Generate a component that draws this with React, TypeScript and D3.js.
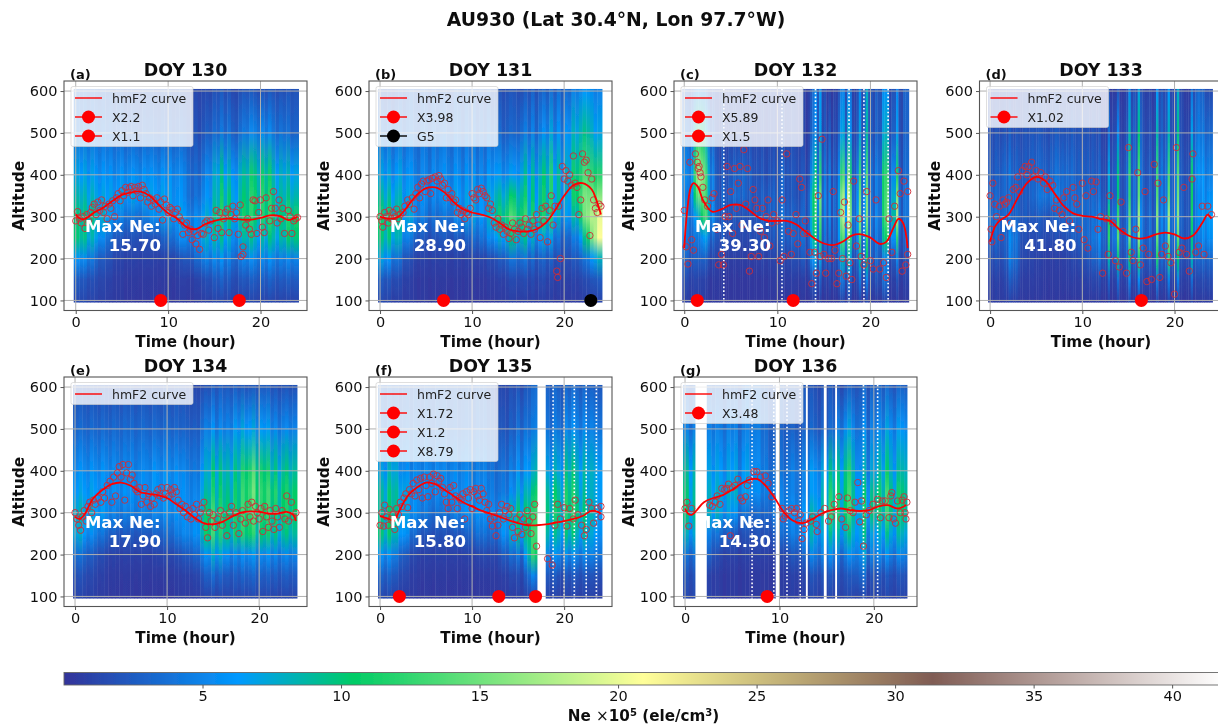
import React, { useEffect, useRef } from "react";
import * as d3 from "d3";

const TITLE = "AU930 (Lat 30.4°N, Lon 97.7°W)";
const FONT = "'DejaVu Sans', sans-serif";

// altitudes of the Ne grid rows, top to bottom
const altRows = [600, 500, 400, 350, 300, 250, 200, 150, 100];

// Ne (x10^5) read per hour, one row per altitude
const neA = [
  [3, 3, 3, 2.5, 2.5, 2, 2, 2, 2, 2, 2, 2, 2, 1.5, 1.5, 2, 2, 2, 2, 2, 2, 2, 2, 2],
  [4, 4, 4, 3.5, 3.5, 3, 3, 3, 3, 3, 3, 3, 3, 2, 3, 3.5, 4, 4, 4, 5, 5, 4, 4, 3],
  [7, 7, 6.5, 6, 6, 6, 6, 6, 6, 6, 6, 5.5, 5, 4, 6, 8, 8, 9, 8, 10, 10, 8, 8, 7],
  [8.5, 8.5, 7.5, 7, 7, 7, 7, 7, 7, 7, 6.5, 6, 5, 5, 6.5, 9, 10, 10, 9, 11, 11, 9, 9, 8.5],
  [10, 10, 9, 7, 5.5, 4.5, 4, 4.5, 6, 7, 7, 7, 7, 7, 8, 10, 10.5, 11, 10, 10.5, 11, 10, 10.5, 11],
  [10, 9, 7, 4, 2.5, 2, 2, 2, 2, 3, 4, 6, 7, 8, 8, 8, 8, 8, 8, 8, 8, 8.5, 9, 10],
  [6, 5, 3, 2, 1.2, 1, 1, 1, 1, 1, 1.2, 2, 3.5, 5, 5, 5, 5, 5, 4.5, 5, 5, 5, 5, 5],
  [2.5, 2, 1.5, 1, 0.7, 0.5, 0.5, 0.5, 0.5, 0.5, 0.5, 0.8, 1, 1.5, 2, 2.5, 2.5, 2.5, 2, 2.5, 2.5, 2.5, 2.5, 2.5],
  [1.5, 1.2, 1, 0.7, 0.5, 0.4, 0.4, 0.4, 0.4, 0.4, 0.4, 0.5, 0.6, 0.8, 1, 1.2, 1.2, 1.2, 1, 1.2, 1.2, 1.2, 1.2, 1.2],
];
const neB = [
  [2, 2, 3, 3, 3, 3, 3, 3, 3, 3, 3, 3, 2, 2, 2, 2, 3, 3, 3, 4, 4, 5, 6, 5],
  [4, 4, 4, 4, 4, 4, 4, 4, 4, 4, 4, 4, 4, 3, 3, 4, 5, 5, 6, 6, 7, 8, 9, 7],
  [7, 7, 7, 6, 5.5, 5.5, 6, 6, 6, 6, 6, 6, 7, 6, 6, 8, 9, 9, 10, 9, 9, 11, 13, 12],
  [9, 9, 8, 7, 6, 5.5, 6, 7, 7, 7, 7, 7, 9, 9, 10, 10, 10, 10, 10, 9, 8, 12, 15, 16],
  [11, 11, 9, 7, 5, 4, 4, 4.5, 6, 7, 7, 7, 10, 12, 13, 12, 11.5, 11, 10, 8, 7, 9, 16, 20],
  [10, 10, 7, 4, 2.5, 2, 2.5, 2.5, 2.5, 3, 4, 5, 7, 8, 9, 9, 8, 7, 6, 4, 3.5, 5, 10, 21],
  [7, 5, 3, 1.5, 1, 1, 1, 1, 1, 1, 1.2, 1.5, 2, 3, 4, 4, 3.5, 3, 2.5, 2, 2, 2.5, 4, 8],
  [2.5, 2, 1.2, 0.7, 0.5, 0.5, 0.5, 0.5, 0.5, 0.5, 0.5, 0.6, 0.8, 1, 1.5, 1.5, 1.5, 1.5, 1, 1, 1, 1, 1.5, 2.5],
  [1.5, 1, 0.8, 0.6, 0.5, 0.4, 0.4, 0.4, 0.4, 0.4, 0.4, 0.4, 0.5, 0.6, 0.8, 0.8, 0.8, 0.8, 0.6, 0.6, 0.6, 0.6, 0.8, 1.2],
];
const neC = [
  [3, 5, 4, 2, 2, 2, 2, 2, 2, 2, 2, 2, 2, 2, 8, 2, 4, 6, 4, 8, 7, 6, 5, 6],
  [5, 12, 8, 2, 2, 2, 2, 2, 2, 2, 2, 2, 2, 2.5, 8, 5, 6, 8, 6, 9, 8, 8, 7, 6],
  [7, 18, 14, 3, 3, 4, 5, 3, 3, 3, 4, 3, 3, 5, 14, 9, 10, 16, 12, 14, 12, 12, 14, 7],
  [6, 15, 14, 3, 4, 5, 5, 3, 4, 4, 4, 3, 3, 8, 18, 10, 13, 20, 14, 16, 12, 12, 20, 8],
  [7, 7, 16, 4, 3, 3, 3, 3, 4, 4, 5, 4, 4, 8, 16, 10, 13, 22, 16, 16, 14, 12, 24, 8],
  [6, 4, 8, 3, 2.5, 2.5, 2, 2.5, 3, 3, 4, 4, 5, 8, 14, 8, 11, 16, 14, 13, 12, 10, 16, 6],
  [4, 2.5, 3, 1.5, 1, 1, 1, 1, 1.5, 1.5, 2, 2, 3, 6, 8, 6, 7, 9, 8, 10, 10, 5, 6, 4],
  [2, 1, 1, 0.7, 0.5, 0.5, 0.5, 0.5, 0.6, 0.7, 1, 1, 1, 2, 3, 3, 4, 4, 4, 5, 6, 4, 2, 2],
  [1, 0.8, 0.7, 0.6, 0.5, 0.4, 0.4, 0.4, 0.5, 0.5, 0.5, 0.5, 0.5, 0.8, 1, 1, 1.2, 1.2, 1.2, 1.5, 1.5, 1.2, 0.8, 0.8],
];
const neD = [
  [2, 2, 2, 2, 2, 2, 2, 2, 2, 2, 2, 2, 2, 2, 3, 7, 7, 3, 8, 6, 8, 2, 8, 2],
  [3, 3, 3, 3, 3, 2.5, 2.5, 3, 3, 3, 3, 3, 3, 5, 6, 10, 10, 6, 10, 8, 10, 5, 10, 4],
  [4, 5, 5, 4, 4, 4, 4, 5, 5, 4, 4, 4, 6, 9, 11, 13, 14, 9, 15, 13, 14, 9, 14, 6],
  [5, 5, 5, 4, 4, 5, 6, 6, 5, 5, 5, 5, 7, 9, 11, 13, 15, 10, 16, 14, 15, 10, 12, 7],
  [6, 5, 5, 4, 3, 3, 3, 4, 5, 5, 5, 6, 10, 13, 12, 15, 18, 12, 18, 17, 16, 11, 12, 8],
  [5, 4, 8, 3, 2, 2, 2, 2, 3, 4, 5, 7, 11, 14, 14, 16, 17, 12, 16, 16, 14, 10, 10, 7],
  [3, 3, 7, 2, 1.5, 1, 1, 1, 1.5, 2, 3, 5, 8, 9, 10, 11, 12, 10, 12, 12, 10, 9, 7, 4],
  [1.5, 1.5, 4, 1, 1, 0.7, 0.7, 0.7, 1, 1, 1.5, 2, 3, 3, 5, 5, 6, 4, 5, 5, 5, 4, 3, 2],
  [1, 1, 1.5, 0.7, 0.6, 0.5, 0.5, 0.5, 0.5, 0.6, 0.7, 0.8, 1, 1, 1.5, 1.5, 1.5, 1.2, 1.5, 1.5, 1.5, 1.2, 1, 0.8],
];
const neE = [
  [2, 2, 2, 2, 2, 2, 2, 2, 2, 2, 2, 2, 1.5, 1.5, 2, 2.5, 2.5, 2.5, 2, 2, 2.5, 2, 2, 2],
  [3.5, 3.5, 3.5, 3.5, 3.5, 3.5, 3.5, 3.5, 3.5, 3.5, 3.5, 3, 3, 3, 5, 5, 5, 6, 6, 5.5, 6, 5, 5, 5],
  [6, 6, 6, 6, 5.5, 5.5, 5.5, 5.5, 6, 6, 6, 5.5, 5, 5, 8, 9, 8.5, 9, 10, 11, 10, 9, 9, 9],
  [7, 7, 7, 6, 6, 6, 6, 6, 6.5, 6.5, 6.5, 6, 5.5, 6, 9, 10, 9.5, 10, 11, 12, 11, 11, 10.5, 10.5],
  [8.5, 8, 7, 6, 5, 5, 5, 5, 5.5, 6, 6, 6, 6, 7, 11, 11, 10.5, 10.5, 11, 11, 11, 10.5, 10.5, 10.5],
  [8, 6, 5, 3.5, 2.5, 2.5, 2.5, 2.5, 3, 3.5, 4, 5, 6, 7, 11, 11, 10, 10, 10, 9.5, 9.5, 9, 9, 9],
  [4, 3, 2, 1.2, 1, 1, 1, 1, 1, 1.5, 1.5, 2, 3, 4, 6, 7, 6, 5, 5, 5, 5, 5, 5, 5],
  [2, 1.5, 1, 0.7, 0.5, 0.5, 0.5, 0.5, 0.5, 0.5, 0.6, 0.8, 1, 1.5, 3, 3, 2.5, 2.5, 2.5, 2.5, 2.5, 2.5, 2.5, 2.5],
  [1.2, 1, 0.7, 0.5, 0.4, 0.4, 0.4, 0.4, 0.4, 0.4, 0.4, 0.5, 0.6, 0.8, 1.2, 1.2, 1.2, 1.2, 1.2, 1.2, 1.2, 1.2, 1.2, 1.2],
];
const neF = [
  [3, 3, 3, 3, 3, 3, 3, 3, 3, 3, 3, 3, 2, 1.5, 2, 2, 3, 3, 3, 3, 3, 3, 3, 3],
  [4, 4, 4, 4, 4, 3.5, 3.5, 3.5, 3.5, 3.5, 3.5, 3.5, 3, 2.5, 3, 4, 4, 4, 4, 4.5, 5, 5, 5, 5],
  [7, 8, 6, 5.5, 5.5, 5.5, 5.5, 5.5, 5.5, 5.5, 5, 5, 4.5, 4.5, 5, 6, 7, 7, 7, 8, 9, 8, 8, 8],
  [9, 9.5, 8, 6, 5.5, 5.5, 5.5, 6, 6, 6, 5.5, 5.5, 5, 5, 6, 8, 9, 9, 9, 10, 10.5, 9, 8, 8],
  [9, 10, 8, 6, 5, 4, 4, 4.5, 5.5, 6, 6, 6, 6, 8, 9, 10, 11, 10, 10, 11, 11, 10, 9, 8],
  [10, 9, 7, 4, 2.5, 2, 2, 2, 2.5, 3, 4, 4, 4, 7, 8, 9, 12, 10, 8, 9, 9, 8, 8, 7],
  [6, 5, 3, 1.5, 1, 1, 1, 1, 1, 1, 1.2, 1.5, 1.5, 3, 4, 4, 12, 6, 5, 6, 5, 5, 5, 5],
  [3, 2.5, 1.5, 0.8, 0.5, 0.5, 0.5, 0.5, 0.5, 0.5, 0.5, 0.5, 0.7, 1, 1.5, 1.5, 5, 2, 2.5, 2, 2, 2, 2, 2],
  [1.5, 1.2, 0.8, 0.5, 0.4, 0.4, 0.4, 0.4, 0.4, 0.4, 0.4, 0.4, 0.5, 0.6, 0.8, 0.8, 1.5, 1, 1.2, 1, 1, 1, 1, 1],
];
const neG = [
  [3, 3, 3, 3, 3, 3, 4, 4, 3, 2.5, 2.5, 2.5, 2.5, 2, 2, 2, 2, 2.5, 3, 3, 3, 3, 3, 3],
  [5, 5, 5, 5, 5, 5, 5, 5, 4, 3, 3, 3, 3, 3, 3, 3, 5, 6, 5, 5, 5, 6, 6, 6],
  [9, 8, 7, 7, 7, 7, 7, 6, 5, 4, 4, 5, 5, 6, 7, 8, 9, 10, 7, 7, 8, 9, 8, 9],
  [10, 8, 8, 8, 8, 8, 7, 6, 5, 5, 5, 5, 5, 6, 8, 10, 10, 11, 8, 9, 10, 11, 10, 10],
  [10, 9, 8, 8, 7, 6, 4, 3.5, 3.5, 5, 5.5, 6, 6, 8, 9, 11, 10.5, 11, 9, 10, 10, 11, 10, 10],
  [8, 7, 5, 4, 3, 2.5, 2, 2, 2, 3, 4, 5, 6, 8, 7, 8, 8, 8, 9, 7, 7, 8, 8, 8],
  [4, 4, 3, 1.5, 1, 1, 1, 1, 1, 1, 1.5, 2.5, 3, 5, 5, 5, 4, 5, 7, 5, 5, 5, 5, 5],
  [2, 2, 1, 0.7, 0.5, 0.5, 0.5, 0.5, 0.5, 0.5, 0.7, 1, 1, 2, 2, 2, 2, 2, 4, 2, 2, 2, 2, 2],
  [1.5, 1.5, 1, 0.7, 0.5, 0.5, 0.5, 0.5, 0.5, 0.5, 0.6, 0.8, 0.8, 1.2, 1.2, 1.2, 1.2, 1.2, 1.5, 1.2, 1.2, 1.2, 1.2, 1.2],
];

// brightness of the vertical streaks, tenths of the hourly value, left to right over 24 h
const streakA = [10, 9, 10, 8, 10, 9, 8, 10, 9, 10, 8, 9, 10, 8, 9, 10, 9, 8, 10, 9, 10, 9, 8, 10, 9, 10, 8, 9, 10, 9, 7, 6, 8, 7, 9, 10, 8, 11, 9, 12, 8, 10, 7, 6, 9, 11, 10, 12, 10, 8, 11, 9, 12, 10, 8, 10, 9, 11, 9, 10];
const streakB = [10, 8, 10, 7, 9, 10, 7, 9, 10, 8, 7, 10, 9, 7, 10, 8, 9, 10, 8, 7, 10, 9, 7, 10, 8, 10, 7, 9, 7, 10, 8, 9, 10, 8, 9, 11, 10, 8, 9, 11, 7, 10, 6, 9, 11, 8, 12, 7, 10, 6, 9, 8, 11, 9, 10, 11, 10, 10, 9, 10];
const streakC = [8, 7, 5, 6, 9, 10, 10, 10, 10, 9, 6, 4, 7, 6, 7, 5, 10, 6, 5, 7, 6, 8, 6, 7, 5, 7, 6, 5, 8, 6, 6, 7, 6, 8, 6, 5, 7, 6, 8, 5, 6, 7, 9, 5, 7, 6, 8, 7, 6, 5, 7, 6, 2, 4, 8, 9, 10, 3, 9, 2, 4, 2, 5, 1.5, 3, 2, 5, 10, 10, 3, 10, 8, 2, 2, 4, 10, 2, 4, 10, 2, 3, 2, 4, 3, 3, 9, 10, 10, 2, 4, 4, 10, 3, 2, 5, 5];
const streakD = [6, 5, 7, 6, 5, 6, 7, 5, 9, 6, 5, 7, 6, 5, 6, 7, 6, 7, 8, 7, 8, 9, 8, 7, 7, 6, 8, 7, 9, 8, 6, 7, 6, 7, 6, 8, 7, 6, 7, 6, 7, 6, 7, 5, 7, 6, 5, 7, 3, 3, 2, 10, 2, 3, 3, 10, 2, 1.5, 2, 3, 10, 2, 3, 2, 10, 3, 2, 1.5, 2, 3, 1.5, 2, 10, 2, 3, 2, 3, 10, 2, 2, 3, 10, 2, 2, 1.5, 2, 2, 10, 3, 4, 5, 5, 7, 6, 8, 8];
const streakE = [9, 10, 9, 8, 10, 9, 8, 10, 9, 8, 10, 9, 8, 10, 9, 10, 8, 9, 10, 9, 8, 10, 9, 8, 10, 9, 8, 10, 9, 10, 9, 8, 9, 8, 10, 11, 9, 12, 8, 11, 9, 10, 8, 11, 9, 12, 10, 11, 13, 9, 11, 10, 12, 9, 11, 8, 10, 11, 9, 10];
const streakF = [10, 8, 11, 9, 10, 8, 9, 10, 8, 10, 9, 8, 10, 9, 8, 10, 9, 10, 8, 9, 10, 8, 9, 10, 9, 8, 10, 9, 10, 8, 9, 7, 8, 9, 7, 10, 8, 11, 7, 10, 9, 11, 12, 14, 12, 10, 8, 11, 9, 7, 11, 9, 12, 10, 8, 11, 9, 10, 9, 8];
const streakG = [10, 7, 10, 9, 10, 9, 10, 8, 10, 9, 7, 10, 9, 10, 6, 9, 10, 8, 9, 10, 8, 9, 7, 9, 8, 10, 8, 9, 10, 8, 7, 10, 8, 11, 9, 7, 10, 8, 12, 9, 11, 7, 10, 12, 9, 7, 8, 12, 6, 10, 9, 11, 8, 12, 9, 7, 11, 10, 9, 10];

// hmF2 curve [hour, km]
const curveA = [[0, 305], [0.5, 295], [1, 295], [2, 310], [3, 322], [4, 338], [5, 352], [6, 358], [7, 360], [8, 350], [9, 328], [10, 308], [11, 295], [12, 275], [13, 270], [14, 282], [15, 290], [16, 295], [17, 295], [18, 293], [19, 293], [20, 297], [21, 303], [22, 302], [23, 292], [23.5, 295], [24, 300]];
const curveB = [[0, 300], [1, 295], [2, 300], [3, 325], [4, 352], [5, 368], [6, 370], [7, 358], [8, 335], [9, 318], [10, 310], [11, 305], [12, 298], [13, 285], [14, 270], [15, 265], [16, 265], [17, 270], [18, 285], [19, 315], [20, 350], [21, 375], [22, 380], [23, 365], [23.5, 340], [24, 305]];
const curveC = [[0, 225], [0.3, 310], [0.7, 370], [1, 380], [1.5, 370], [2, 340], [3, 312], [4, 318], [5, 328], [6, 328], [7, 315], [8, 298], [9, 290], [10, 290], [11, 290], [12, 282], [13, 265], [14, 248], [15, 236], [16, 232], [17, 240], [18, 255], [19, 258], [20, 250], [21, 235], [21.7, 240], [22.5, 275], [23, 295], [23.5, 285], [24, 225]];
const curveD = [[0, 240], [0.5, 275], [1, 290], [2, 305], [3, 345], [4, 380], [5, 395], [6, 385], [7, 355], [8, 325], [9, 308], [10, 302], [11, 300], [12, 295], [13, 290], [14, 270], [15, 255], [16, 248], [17, 250], [18, 258], [19, 262], [20, 258], [21, 248], [22, 255], [23, 285], [23.6, 305], [24, 295]];
const curveE = [[0, 290], [0.5, 285], [1, 295], [2, 335], [3, 355], [4, 368], [5, 372], [6, 365], [7, 350], [8, 345], [9, 342], [10, 335], [11, 320], [12, 305], [13, 288], [14, 275], [15, 272], [16, 278], [17, 290], [18, 300], [19, 303], [20, 302], [21, 298], [22, 298], [23, 302], [23.7, 295], [24, 280]];
const curveF = [[0, 292], [1, 285], [1.5, 280], [2, 300], [3, 340], [4, 360], [5, 372], [6, 368], [7, 355], [8, 340], [9, 325], [10, 315], [11, 305], [12, 298], [13, 290], [14, 282], [15, 275], [16, 270], [17, 270], [18, 272], [19, 276], [20, 280], [21, 285], [22, 292], [23, 305], [23.5, 303], [24, 298]];
const curveG = [[0, 310], [0.3, 298], [0.7, 295], [1.2, 305], [2, 325], [3, 335], [4, 342], [5, 355], [6, 370], [7, 380], [7.7, 380], [8.5, 365], [9.5, 335], [10.5, 300], [11.5, 280], [12.5, 275], [13.5, 285], [14.5, 298], [15.5, 306], [16.5, 310], [17.5, 306], [18.5, 304], [19.5, 306], [20.5, 315], [21.5, 318], [22.5, 310], [23.4, 318]];

// single hmF2 readings [hour, km]
const readingsA = [[0, 290], [0.2, 312], [0.4, 295], [0.6, 285], [0.8, 300], [1, 272], [1.2, 305], [1.4, 290], [1.6, 310], [1.8, 322], [2, 330], [2.2, 305], [2.4, 335], [2.6, 315], [2.8, 340], [3, 310], [3.2, 325], [3.4, 295], [3.6, 330], [3.8, 320], [4, 338], [4.2, 300], [4.4, 345], [4.6, 355], [4.8, 338], [5, 362], [5.2, 350], [5.4, 370], [5.6, 358], [5.8, 368], [6, 372], [6.2, 350], [6.4, 370], [6.6, 362], [6.8, 372], [7, 345], [7.2, 375], [7.4, 365], [7.6, 355], [7.8, 335], [8, 345], [8.2, 325], [8.4, 340], [8.6, 330], [8.8, 345], [9, 318], [9.2, 335], [9.4, 292], [9.6, 342], [9.8, 328], [10, 310], [10.2, 322], [10.4, 318], [10.6, 295], [10.8, 310], [11, 318], [11.2, 300], [11.4, 290], [11.6, 258], [11.8, 280], [12, 285], [12.2, 262], [12.4, 270], [12.6, 245], [12.8, 265], [13, 235], [13.2, 255], [13.4, 222], [13.6, 260], [13.8, 258], [14, 285], [14.2, 290], [14.4, 268], [14.6, 290], [15, 250], [15.2, 315], [15.4, 272], [15.6, 310], [15.8, 262], [16, 295], [16.2, 310], [16.4, 318], [16.6, 262], [16.8, 305], [17, 325], [17.2, 295], [17.4, 310], [17.6, 258], [17.8, 328], [17.9, 205], [18.1, 228], [18.1, 210], [18.4, 280], [18.6, 295], [18.8, 270], [19, 258], [19.2, 340], [19.4, 338], [19.6, 260], [19.8, 310], [20, 340], [20.2, 275], [20.4, 262], [20.6, 345], [21, 290], [21.2, 320], [21.4, 360], [21.6, 320], [21.8, 285], [22, 340], [22.2, 295], [22.4, 320], [22.6, 260], [23, 315], [23.2, 300], [23.4, 260], [23.6, 290], [23.8, 295], [24, 298]];
const readingsB = [[0, 300], [0.2, 290], [0.3, 275], [0.5, 310], [0.7, 300], [0.9, 285], [1, 315], [1.2, 295], [1.4, 310], [1.6, 300], [1.8, 318], [2, 295], [2.2, 305], [2.5, 310], [2.7, 325], [3, 340], [3.2, 330], [3.5, 345], [3.7, 318], [3.9, 355], [4.1, 370], [4.3, 345], [4.5, 378], [4.7, 385], [4.9, 360], [5.1, 385], [5.3, 388], [5.5, 355], [5.7, 392], [6, 395], [6.2, 385], [6.4, 398], [6.6, 390], [6.8, 375], [7, 380], [7.2, 345], [7.4, 365], [7.6, 345], [7.8, 355], [8, 335], [8.2, 340], [8.4, 310], [8.6, 320], [8.8, 305], [9, 315], [9.2, 295], [9.4, 310], [9.6, 305], [9.8, 320], [10, 355], [10.2, 345], [10.4, 340], [10.6, 365], [10.8, 355], [11, 368], [11.2, 360], [11.4, 350], [11.6, 345], [11.8, 320], [12, 330], [12.2, 315], [12.4, 285], [12.6, 275], [12.8, 295], [13, 270], [13.2, 280], [13.4, 258], [13.6, 275], [13.8, 265], [14, 248], [14.2, 260], [14.4, 285], [14.6, 270], [14.8, 245], [15, 265], [15.2, 285], [15.4, 275], [15.6, 260], [15.8, 295], [16, 270], [16.2, 280], [16.4, 258], [16.6, 290], [16.8, 270], [17, 305], [17.2, 280], [17.4, 250], [17.6, 320], [17.8, 290], [18, 325], [18.2, 240], [18.4, 315], [18.6, 350], [18.8, 280], [19, 325], [19.2, 170], [19.3, 155], [19.4, 325], [19.6, 200], [19.8, 420], [20, 390], [20.2, 410], [20.4, 385], [20.6, 400], [20.8, 375], [21, 445], [21.2, 380], [21.4, 370], [21.6, 305], [21.8, 340], [22, 450], [22.2, 430], [22.4, 435], [22.6, 405], [22.8, 255], [23, 390], [23.2, 340], [23.4, 320], [23.6, 310], [23.8, 330], [24, 325]];
const readingsC = [[0, 315], [0.2, 228], [0.4, 187], [0.6, 430], [0.8, 245], [1, 220], [1.2, 450], [1.4, 430], [1.5, 415], [1.6, 420], [1.7, 405], [1.8, 395], [2, 370], [2.2, 340], [2.5, 325], [3, 345], [3.2, 355], [3.5, 270], [3.7, 185], [4, 210], [4.2, 185], [4.4, 300], [4.6, 420], [4.8, 300], [5, 360], [5.2, 260], [5.4, 415], [5.6, 320], [5.8, 380], [6, 420], [6.2, 280], [6.4, 460], [6.6, 330], [6.8, 415], [7, 170], [7.2, 205], [7.4, 365], [7.6, 340], [7.8, 320], [8, 205], [8.2, 265], [8.4, 320], [8.6, 250], [8.8, 300], [9, 340], [9.2, 230], [9.4, 285], [9.6, 305], [10, 290], [10.3, 195], [10.5, 340], [10.7, 205], [11, 450], [11.2, 265], [11.5, 210], [11.7, 260], [12, 305], [12.2, 235], [12.4, 390], [12.6, 370], [12.8, 260], [13, 290], [13.2, 260], [13.5, 215], [13.7, 140], [14, 215], [14.2, 165], [14.4, 350], [14.6, 205], [14.8, 485], [15, 210], [15.2, 165], [15.5, 200], [15.8, 200], [16, 360], [16.2, 220], [16.4, 140], [16.6, 165], [16.8, 310], [17, 200], [17.2, 335], [17.4, 158], [17.6, 280], [17.8, 190], [18, 150], [18.2, 385], [18.5, 230], [18.8, 295], [19, 205], [19.3, 185], [19.6, 360], [20, 195], [20.3, 175], [20.6, 340], [21, 175], [21.4, 190], [21.7, 155], [22, 295], [22.3, 215], [22.6, 325], [23, 410], [23.2, 355], [23.4, 170], [23.6, 385], [23.8, 185], [24, 360], [24, 210]];
const readingsD = [[0, 350], [0.1, 270], [0.2, 240], [0.3, 380], [0.5, 330], [0.7, 300], [1, 325], [1.2, 250], [1.4, 340], [1.6, 330], [1.8, 335], [2, 345], [2.2, 285], [2.5, 365], [2.8, 370], [3, 395], [3.2, 360], [3.5, 410], [3.8, 420], [4, 400], [4.2, 420], [4.5, 430], [4.7, 395], [5, 410], [5.2, 390], [5.5, 405], [5.8, 380], [6, 395], [6.2, 365], [6.5, 385], [6.8, 375], [7, 320], [7.2, 340], [7.5, 315], [7.8, 305], [8, 345], [8.3, 360], [8.6, 290], [9, 370], [9.2, 345], [9.4, 330], [9.6, 270], [10, 380], [10.2, 245], [10.4, 350], [10.6, 225], [11, 385], [11.2, 360], [11.5, 383], [11.7, 270], [12, 300], [12.2, 165], [12.6, 295], [12.8, 210], [13, 350], [13.3, 285], [13.6, 195], [14, 180], [14.2, 335], [14.4, 265], [14.8, 165], [15, 465], [15.3, 215], [15.5, 195], [15.8, 270], [16, 405], [16.3, 185], [16.6, 225], [16.8, 360], [17, 145], [17.2, 210], [17.5, 150], [17.8, 425], [18.2, 380], [18.4, 155], [18.6, 210], [18.8, 340], [19, 230], [19.3, 205], [19.6, 190], [20, 115], [20.2, 465], [20.5, 215], [20.8, 225], [21, 370], [21.3, 210], [21.6, 170], [21.9, 390], [22, 450], [22.3, 215], [22.6, 230], [23, 325], [23.2, 210], [23.6, 325], [24, 305]];
const readingsE = [[0, 300], [0.2, 285], [0.4, 270], [0.6, 258], [0.8, 290], [1, 305], [1.2, 280], [1.4, 315], [1.6, 325], [1.8, 300], [2, 330], [2.2, 320], [2.5, 335], [2.8, 325], [3, 350], [3.2, 335], [3.5, 365], [3.8, 375], [4, 325], [4.2, 385], [4.4, 340], [4.6, 395], [4.8, 410], [5, 385], [5.2, 415], [5.4, 330], [5.6, 395], [5.8, 415], [6, 380], [6.2, 390], [6.4, 370], [6.6, 355], [6.8, 350], [7, 360], [7.2, 320], [7.4, 340], [7.6, 360], [7.8, 325], [8, 345], [8.2, 315], [8.4, 335], [8.6, 320], [8.8, 345], [9, 355], [9.2, 340], [9.4, 360], [9.6, 335], [9.8, 345], [10, 360], [10.2, 340], [10.4, 355], [10.6, 345], [10.8, 360], [11, 350], [11.2, 330], [11.4, 310], [11.6, 320], [11.8, 300], [12, 315], [12.2, 290], [12.4, 305], [12.6, 285], [12.8, 310], [13, 295], [13.2, 320], [13.4, 285], [13.6, 300], [13.8, 310], [14, 325], [14.2, 265], [14.4, 240], [14.6, 300], [14.8, 280], [15, 295], [15.2, 265], [15.5, 285], [15.8, 305], [16, 270], [16.2, 295], [16.5, 245], [16.8, 300], [17, 315], [17.2, 270], [17.5, 300], [17.8, 250], [18, 285], [18.2, 305], [18.5, 275], [18.8, 320], [19, 290], [19.2, 325], [19.4, 280], [19.6, 315], [19.8, 300], [20, 285], [20.2, 310], [20.4, 255], [20.6, 315], [20.8, 290], [21, 265], [21.2, 305], [21.4, 280], [21.6, 260], [21.8, 310], [22, 290], [22.2, 265], [22.5, 305], [22.8, 285], [23, 340], [23.2, 280], [23.5, 325], [23.7, 290], [24, 300]];
const readingsF = [[0, 270], [0.2, 300], [0.4, 268], [0.5, 318], [0.7, 290], [0.9, 270], [1, 308], [1.2, 285], [1.4, 295], [1.6, 260], [1.8, 310], [2, 295], [2.2, 325], [2.4, 315], [2.6, 335], [2.8, 345], [3, 312], [3.2, 355], [3.4, 345], [3.6, 370], [3.8, 340], [4, 378], [4.2, 355], [4.4, 382], [4.6, 335], [4.8, 385], [5, 365], [5.2, 338], [5.4, 385], [5.6, 370], [5.8, 392], [6, 350], [6.2, 388], [6.4, 375], [6.6, 382], [6.8, 360], [7, 345], [7.2, 325], [7.4, 310], [7.6, 360], [7.8, 325], [8, 365], [8.2, 340], [8.4, 310], [8.6, 335], [8.8, 330], [9, 345], [9.2, 285], [9.4, 350], [9.6, 335], [9.8, 355], [10, 310], [10.2, 350], [10.4, 358], [10.6, 340], [10.8, 330], [11, 358], [11.2, 345], [11.4, 325], [11.6, 305], [11.8, 320], [12, 285], [12.2, 268], [12.4, 290], [12.6, 245], [12.8, 270], [13, 300], [13.2, 320], [13.4, 285], [13.6, 305], [13.8, 315], [14, 295], [14.2, 310], [14.4, 265], [14.6, 240], [14.8, 285], [15, 255], [15.2, 295], [15.4, 248], [15.6, 285], [15.8, 265], [16, 305], [16.2, 280], [16.4, 250], [16.6, 290], [16.8, 320], [17, 220], [18.2, 190], [18.7, 175], [19, 270], [19.3, 320], [19.6, 285], [20, 312], [20.3, 268], [20.6, 310], [21, 285], [21.2, 330], [21.5, 295], [21.9, 270], [22.2, 245], [22.4, 260], [22.7, 325], [23, 310], [23.2, 275], [23.6, 310], [24, 315], [24, 290]];
const readingsG = [[0, 310], [0.2, 325], [0.4, 268], [0.7, 310], [2.6, 318], [2.9, 315], [3.2, 325], [3.4, 340], [3.7, 320], [3.9, 358], [4.2, 355], [4.4, 358], [4.6, 368], [4.8, 245], [5, 360], [5.3, 365], [5.6, 380], [5.9, 335], [6.1, 328], [6.4, 338], [6.6, 365], [6.8, 378], [7.3, 398], [7.6, 398], [8, 385], [8.5, 388], [8.8, 370], [9.2, 338], [10.3, 310], [10.4, 285], [10.6, 292], [11, 305], [11.3, 310], [11.6, 300], [11.8, 310], [12, 280], [12.2, 295], [12.4, 238], [12.6, 260], [12.8, 275], [13.3, 280], [13.5, 290], [13.9, 272], [14, 255], [14.4, 300], [14.8, 310], [15.2, 280], [15.5, 290], [15.8, 320], [16.3, 338], [16.6, 285], [17, 265], [17.2, 335], [17.5, 305], [17.8, 300], [18, 325], [18.3, 372], [18.5, 278], [18.7, 328], [18.9, 220], [19.2, 295], [19.5, 305], [19.9, 320], [20.4, 332], [20.7, 288], [20.9, 328], [21.2, 328], [21.6, 288], [21.8, 340], [21.9, 348], [22.1, 285], [22.3, 275], [22.5, 328], [22.8, 300], [23, 330], [23.2, 338], [23.3, 300], [23.4, 285], [23.5, 325]];

// flare and storm events [hour, label, colour]
const eventsA = [[9.2, "X2.2", "#ff0000"], [17.7, "X1.1", "#ff0000"]];
const eventsB = [[6.9, "X3.98", "#ff0000"], [22.9, "G5", "#000000"]];
const eventsC = [[1.4, "X5.89", "#ff0000"], [11.7, "X1.5", "#ff0000"]];
const eventsD = [[16.4, "X1.02", "#ff0000"]];
const eventsE = [];
const eventsF = [[2.1, "X1.72", "#ff0000"], [12.9, "X1.2", "#ff0000"], [16.9, "X8.79", "#ff0000"]];
const eventsG = [[8.7, "X3.48", "#ff0000"]];

const colorStops = [0, 6.27, 10.45, 20.9, 31.35, 41.8];
const colorValues = ["#333399", "#0099ff", "#00cc66", "#ffff99", "#805c54", "#ffffff"];
const colorTicks = [5, 10, 15, 20, 25, 30, 35, 40];
const altTicks = [100, 200, 300, 400, 500, 600];
const hourTicks = [0, 10, 20];

const panels = [
  { tag: "(a)", doy: 130, maxNe: "15.70", left: 64, top: 81, xDom: [-1.27, 25.03], ne: neA, streak: streakA, curve: curveA, readings: readingsA, events: eventsA, gaps: [], dotted: [], end: 24 },
  { tag: "(b)", doy: 131, maxNe: "28.90", left: 369, top: 81, xDom: [-1.2, 25.2], ne: neB, streak: streakB, curve: curveB, readings: readingsB, events: eventsB, gaps: [], dotted: [], end: 24 },
  { tag: "(c)", doy: 132, maxNe: "39.30", left: 674, top: 81, xDom: [-1.1, 25], ne: neC, streak: streakC, curve: curveC, readings: readingsC, events: eventsC, gaps: [], dotted: [4.25, 10.5, 14.1, 17.7, 19.3, 21.9], end: 24 },
  { tag: "(d)", doy: 133, maxNe: "41.80", left: 979.5, top: 81, xDom: [-1.15, 25.2], ne: neD, streak: streakD, curve: curveD, readings: readingsD, events: eventsD, gaps: [], dotted: [], end: 24 },
  { tag: "(e)", doy: 134, maxNe: "17.90", left: 64, top: 377, xDom: [-1.2, 25.2], ne: neE, streak: streakE, curve: curveE, readings: readingsE, events: eventsE, gaps: [], dotted: [], end: 24 },
  { tag: "(f)", doy: 135, maxNe: "15.80", left: 369, top: 377, xDom: [-1.2, 25.2], ne: neF, streak: streakF, curve: curveF, readings: readingsF, events: eventsF, gaps: [[17.1, 18]], dotted: [18.8, 20, 21.1, 22.4, 23.5], end: 24 },
  { tag: "(g)", doy: 136, maxNe: "14.30", left: 674, top: 377, xDom: [-1.17, 24.57], ne: neG, streak: streakG, curve: curveG, readings: readingsG, events: eventsG, gaps: [[1.1, 2.3], [9.6, 10], [12.8, 13], [14.7, 15], [15.9, 16.1]], dotted: [7.1, 9.4, 10.8, 12.2, 18.9, 20.4], end: 23.4 },
];

const axW = 243;
const axH = 229.5;

export default function App() {
  const ref = useRef<SVGSVGElement>(null);

  useEffect(() => {
    const svg = d3.select(ref.current);
    svg.selectAll("*").remove();
    svg.style("font-family", FONT);

    const neColor = d3.scaleLinear<string>().domain(colorStops).range(colorValues).clamp(true);

    const defs = svg.append("defs");
    // blur only sideways so the top and bottom edges of the field stay crisp
    defs.append("filter").attr("id", "soft").attr("x", "-5%").attr("y", "-5%").attr("width", "110%").attr("height", "110%")
      .append("feGaussianBlur").attr("stdDeviation", "0.55 0");
    defs.append("filter").attr("id", "page").attr("x", 0).attr("y", 0).attr("width", "100%").attr("height", "100%")
      .append("feGaussianBlur").attr("stdDeviation", 0.35);

    const root = svg.append("g").attr("filter", "url(#page)");
    root.append("rect").attr("width", 1218).attr("height", 728).attr("fill", "#fff");

    root.append("text").attr("x", 616).attr("y", 25.5).attr("text-anchor", "middle")
      .attr("font-size", 18.8).attr("font-weight", "bold").attr("fill", "#111").text(TITLE);

    panels.forEach((p, pi) => {
      const x = d3.scaleLinear().domain(p.xDom).range([p.left, p.left + axW]);
      const y = d3.scaleLinear().domain([76, 624]).range([p.top + axH, p.top]);
      const g = root.append("g");

      // hourly Ne read along time for one altitude row, drawn smooth like the plot
      const hours = d3.range(24).map((h) => h + 0.5);
      const rowScales = p.ne.map((row) => d3.scaleLinear().domain(hours).range(row).clamp(true));
      const colW = 24 / p.streak.length;

      const heat = g.append("g").attr("filter", "url(#soft)");
      p.streak.forEach((f, i) => {
        const t0 = i * colW;
        if (t0 >= p.end) return;
        const t1 = Math.min(t0 + colW, p.end);
        const id = `col-${pi}-${i}`;
        const grad = defs.append("linearGradient").attr("id", id).attr("x1", 0).attr("y1", 0).attr("x2", 0).attr("y2", 1);
        altRows.forEach((a, r) => {
          grad.append("stop")
            .attr("offset", (605 - a) / 510)
            .attr("stop-color", neColor((rowScales[r](t0 + colW / 2) * f) / 10));
        });
        // the first and last columns reach past the data by a marker radius
        const pad0 = i === 0 ? 2 : 0;
        const pad1 = t1 === p.end ? 1.5 : 0.4;
        heat.append("rect")
          .attr("x", x(t0) - pad0).attr("width", x(t1) - x(t0) + pad0 + pad1)
          .attr("y", y(605)).attr("height", y(95) - y(605))
          .attr("fill", `url(#${id})`);
      });
      heat.selectAll(".gap").data(p.gaps).enter().append("rect")
        .attr("x", (d) => x(d[0])).attr("width", (d) => x(d[1]) - x(d[0]))
        .attr("y", y(612)).attr("height", y(88) - y(612)).attr("fill", "#fff");
      heat.selectAll(".dot").data(p.dotted).enter().append("line")
        .attr("x1", (d) => x(d)).attr("x2", (d) => x(d))
        .attr("y1", y(605)).attr("y2", y(95))
        .attr("stroke", "#fff").attr("stroke-width", 1.6).attr("stroke-dasharray", "1.6,2.2");

      // grid
      g.selectAll(".gx").data(hourTicks).enter().append("line")
        .attr("x1", (d) => x(d)).attr("x2", (d) => x(d)).attr("y1", p.top).attr("y2", p.top + axH)
        .attr("stroke", "#b0b0b0").attr("stroke-width", 1);
      g.selectAll(".gy").data(altTicks).enter().append("line")
        .attr("x1", p.left).attr("x2", p.left + axW).attr("y1", (d) => y(d)).attr("y2", (d) => y(d))
        .attr("stroke", "#b0b0b0").attr("stroke-width", 1);

      // hmF2 readings and fit
      g.selectAll(".reading").data(p.readings).enter().append("circle")
        .attr("cx", (d) => x(d[0])).attr("cy", (d) => y(d[1])).attr("r", 3.2)
        .attr("fill", "none").attr("stroke", "#d02c36").attr("stroke-width", 1).attr("opacity", 0.9);
      const line = d3.line().x((d) => x(d[0])).y((d) => y(d[1])).curve(d3.curveCatmullRom.alpha(0.5));
      g.append("path").attr("d", line(p.curve)).attr("fill", "none").attr("stroke", "#ff0000").attr("stroke-width", 1.8);

      g.selectAll(".event").data(p.events).enter().append("circle")
        .attr("cx", (d) => x(d[0])).attr("cy", y(100)).attr("r", 6.5).attr("fill", (d) => d[2]);

      // frame and axes
      g.append("rect").attr("x", p.left).attr("y", p.top).attr("width", axW).attr("height", axH)
        .attr("fill", "none").attr("stroke", "#555").attr("stroke-width", 1.1);
      const xAxis = g.append("g").attr("transform", `translate(0,${p.top + axH})`)
        .call(d3.axisBottom(x).tickValues(hourTicks).tickSize(3.5).tickPadding(3).tickFormat(d3.format("d")));
      const yAxis = g.append("g").attr("transform", `translate(${p.left},0)`)
        .call(d3.axisLeft(y).tickValues(altTicks).tickSize(3.5).tickPadding(3).tickFormat(d3.format("d")));
      [xAxis, yAxis].forEach((a) => {
        a.select(".domain").remove();
        a.selectAll("text").attr("font-size", 14.5).attr("font-family", FONT).attr("fill", "#111");
        a.selectAll("line").attr("stroke", "#555");
      });

      g.append("text").attr("x", p.left + axW / 2).attr("y", p.top + axH + 36)
        .attr("text-anchor", "middle").attr("font-size", 15.2).attr("font-weight", "bold").attr("fill", "#111").text("Time (hour)");
      g.append("text").attr("transform", `translate(${p.left - 40},${p.top + axH / 2}) rotate(-90)`)
        .attr("text-anchor", "middle").attr("font-size", 15.5).attr("font-weight", "bold").attr("fill", "#111").text("Altitude");
      g.append("text").attr("x", p.left + axW / 2).attr("y", p.top - 5.5)
        .attr("text-anchor", "middle").attr("font-size", 17.4).attr("font-weight", "bold").attr("fill", "#111").text(`DOY ${p.doy}`);
      g.append("text").attr("x", p.left + 6).attr("y", p.top - 2)
        .attr("font-size", 13).attr("font-weight", "bold").attr("fill", "#111").text(p.tag);

      // legend
      const lx = p.left + 7;
      const ly = p.top + 5.5;
      const rowH = 19;
      const items = [{ label: "hmF2 curve", color: "#ff0000", dot: false }]
        .concat(p.events.map((e) => ({ label: e[1], color: e[2], dot: true })));
      g.append("rect").attr("x", lx).attr("y", ly).attr("width", 122).attr("height", 3 + items.length * rowH)
        .attr("rx", 2).attr("fill", "#fff").attr("fill-opacity", 0.8).attr("stroke", "#ccc").attr("stroke-opacity", 0.8).attr("stroke-width", 0.8);
      items.forEach((it, i) => {
        const cy = ly + 11.5 + i * rowH;
        g.append("line").attr("x1", lx + 4).attr("x2", lx + 31).attr("y1", cy).attr("y2", cy)
          .attr("stroke", it.color).attr("stroke-width", 1.4);
        if (it.dot) g.append("circle").attr("cx", lx + 17.5).attr("cy", cy).attr("r", 6.5).attr("fill", it.color);
        g.append("text").attr("x", lx + 41).attr("y", cy + 4.5).attr("font-size", 12.5).attr("fill", "#222").text(it.label);
      });

      // peak density note
      g.append("text").attr("x", p.left + 96.5).attr("y", p.top + 150.5).attr("text-anchor", "end")
        .attr("font-size", 16.5).attr("font-weight", "bold").attr("fill", "#fff").text("Max Ne:");
      g.append("text").attr("x", p.left + 97).attr("y", p.top + 169.5).attr("text-anchor", "end")
        .attr("font-size", 16.5).attr("font-weight", "bold").attr("fill", "#fff").text(p.maxNe);
    });

    // colour bar
    const cx = d3.scaleLinear().domain([0, 41.8]).range([64, 1222]);
    const barGrad = defs.append("linearGradient").attr("id", "bar");
    colorStops.forEach((v, i) => {
      barGrad.append("stop").attr("offset", v / 41.8).attr("stop-color", colorValues[i]);
    });
    const bar = root.append("g");
    bar.append("rect").attr("x", cx(0)).attr("y", 672.5).attr("width", cx(41.8) - cx(0)).attr("height", 12.5)
      .attr("fill", "url(#bar)").attr("stroke", "#666").attr("stroke-width", 0.9);
    const barAxis = bar.append("g").attr("transform", "translate(0,685)")
      .call(d3.axisBottom(cx).tickValues(colorTicks).tickSize(3.5).tickPadding(2).tickFormat(d3.format("d")));
    barAxis.select(".domain").remove();
    barAxis.selectAll("text").attr("font-size", 14.5).attr("font-family", FONT).attr("fill", "#111");
    barAxis.selectAll("line").attr("stroke", "#555");

    const label = bar.append("text").attr("x", 643.5).attr("y", 721).attr("text-anchor", "middle")
      .attr("font-size", 15.2).attr("font-weight", "bold").attr("fill", "#111");
    label.append("tspan").text("Ne ");
    label.append("tspan").attr("font-weight", "normal").text("×");
    label.append("tspan").text("10");
    label.append("tspan").attr("font-size", 10).attr("dy", -5).text("5");
    label.append("tspan").attr("dy", 5).text(" (ele/cm");
    label.append("tspan").attr("font-size", 10).attr("dy", -5).text("3");
    label.append("tspan").attr("dy", 5).text(")");
  }, []);

  return <svg ref={ref} width={1218} height={728} style={{ position: "absolute", left: 0, top: 0, background: "#fff" }} />;
}
